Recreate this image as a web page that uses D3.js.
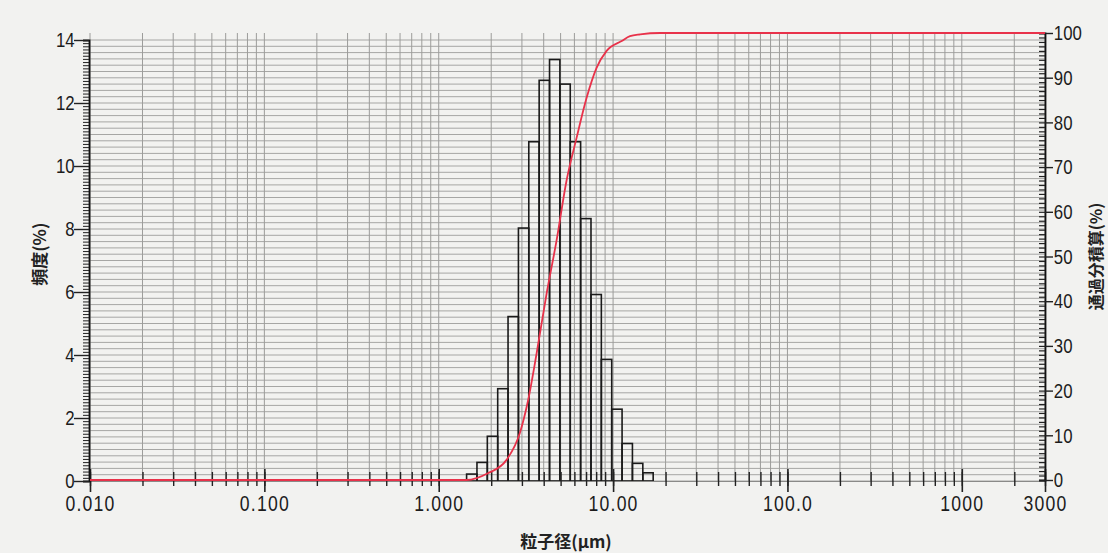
<!DOCTYPE html>
<html>
<head>
<meta charset="utf-8">
<script src="https://cdn.jsdelivr.net/npm/d3@7"></script>
<style>
  html, body { margin: 0; padding: 0; background: #f2f2f0; }
  svg { display: block; }
</style>
</head>
<body>
<svg id="chart" width="1108" height="553"></svg>
<script>
// bin edges of the histogram (µm) and frequency of each bin (%)
const binEdges = [1.445, 1.657, 1.900, 2.179, 2.498, 2.865, 3.285, 3.767, 4.320, 4.953,
                  5.680, 6.513, 7.469, 8.564, 9.821, 11.26, 12.91, 14.81, 16.98];
const freq = [0.22, 0.59, 1.42, 2.93, 5.22, 8.03, 10.77, 12.72, 13.38,
              12.6, 10.77, 8.33, 5.92, 3.86, 2.28, 1.19, 0.56, 0.26];

// cumulative passing curve (red)
const cumSize = [0.01, 1.445, 1.914, 2.449, 2.919, 3.258, 3.642, 4.156, 4.742, 5.41,
                 6.18, 7.05, 8.04, 9.18, 11.2, 12.5, 14.3, 18.6, 3000];
const cumPass = [0, 0, 1.5, 4.5, 10.5, 17.9, 28.3, 41.7, 53.6, 67,
                 76.6, 85.5, 92.2, 96, 98.2, 99.3, 99.7, 100, 100];

// axis ticks
const xMajor = [0.01, 0.1, 1, 10, 100, 1000, 3000];
const xLabels = ["0.010", "0.100", "1.000", "10.00", "100.0", "1000", "3000"];
const yLeftMajor = [0, 2, 4, 6, 8, 10, 12, 14];
const yRightMajor = [0, 10, 20, 30, 40, 50, 60, 70, 80, 90, 100];

const tickFont = "'Liberation Sans', Arial, sans-serif";

const svg = d3.select("#chart");

const x = d3.scaleLog().domain([0.01, 3000]).range([90, 1045]);
const yL = d3.scaleLinear().domain([0, 14]).range([481, 40]);
const yR = d3.scaleLinear().domain([0, 100]).range([480, 33]);

// minor log ticks 1..9 per decade, plus 2000
const xMinor = [];
[0.01, 0.1, 1, 10, 100].forEach((dec) => {
  for (let k = 1; k < 10; k++) xMinor.push(+(dec * k).toPrecision(3));
});
xMinor.push(1000, 2000, 3000);

// narrow tall digits like the printed chart
const styleTickText = (sel, size) => {
  sel.selectAll(".tick text")
      .style("font-family", tickFont)
      .style("font-size", size)
      .style("fill", "#1c1c1c")
      .attr("transform", "scale(0.8,1)");
}

const grid = svg.append("g").attr("class", "grid");

// horizontal grid every 0.2 on the left scale
grid.selectAll("line.h")
    .data(d3.range(0, 70.5, 1).map((i) => i * 0.2))
    .enter()
    .append("line")
      .attr("class", "h")
      .attr("x1", x(0.01))
      .attr("x2", x(3000))
      .attr("y1", (d) => yL(d))
      .attr("y2", (d) => yL(d))
      .style("stroke", "#a6a6a4")
      .style("stroke-width", 1);

// vertical grid at each log tick
grid.selectAll("line.v")
    .data(xMinor)
    .enter()
    .append("line")
      .attr("class", "v")
      .attr("x1", (d) => x(d))
      .attr("x2", (d) => x(d))
      .attr("y1", yR(100))
      .attr("y2", yL(0))
      .style("stroke", "#9c9c9a")
      .style("stroke-width", 1);

// histogram outlines
svg.append("g")
    .selectAll("rect")
    .data(freq)
    .enter()
    .append("rect")
      .attr("x", (d, i) => x(binEdges[i]))
      .attr("width", (d, i) => x(binEdges[i + 1]) - x(binEdges[i]))
      .attr("y", (d) => yL(d))
      .attr("height", (d) => yL(0) - yL(d))
      .style("fill", "none")
      .style("stroke", "#1a1a1a")
      .style("stroke-width", 1.6);

// bottom axis, major and minor
const bottomMinor = svg.append("g")
    .attr("transform", `translate(0,${yL(0)})`)
    .call(d3.axisBottom(x).tickValues(xMinor).tickSize(5).tickFormat(""));
bottomMinor.selectAll(".tick line").attr("y1", -9).style("stroke", "#222").style("stroke-width", 1.4);
bottomMinor.select(".domain").style("stroke", "#8a8a88");

const bottomMajor = svg.append("g")
    .attr("transform", `translate(0,${yL(0)})`)
    .call(d3.axisBottom(x).tickValues(xMajor).tickSize(11)
          .tickFormat((d, i) => xLabels[i]));
bottomMajor.select(".domain").remove();
bottomMajor.selectAll(".tick line").attr("y1", -12).style("stroke", "#222").style("stroke-width", 1.6);
bottomMajor.selectAll(".tick text")
    .attr("y", 14)
    .attr("dy", "0.71em")
    .style("letter-spacing", "1.5px");
styleTickText(bottomMajor, "22px");

// left axis
const leftMinor = svg.append("g")
    .attr("transform", `translate(${x(0.01) - 1},0)`)
    .call(d3.axisLeft(yL).tickValues(d3.range(0, 141).map((i) => i / 10)).tickSize(6).tickFormat(""));
leftMinor.selectAll(".tick line").style("stroke", "#222").style("stroke-width", 1);
leftMinor.select(".domain").style("stroke", "#111").style("stroke-width", 1.8);

const leftMajor = svg.append("g")
    .attr("transform", `translate(${x(0.01) - 1},0)`)
    .call(d3.axisLeft(yL).tickValues(yLeftMajor).tickSize(15).tickPadding(3));
leftMajor.select(".domain").remove();
leftMajor.selectAll(".tick line").style("stroke", "#222").style("stroke-width", 1.4);
styleTickText(leftMajor, "21px");

// right axis
const rightMinor = svg.append("g")
    .attr("transform", `translate(${x(3000)},0)`)
    .call(d3.axisLeft(yR).tickValues(d3.range(0, 101)).tickSize(6).tickFormat(""));
rightMinor.selectAll(".tick line").style("stroke", "#222").style("stroke-width", 1.2);
rightMinor.select(".domain").style("stroke", "#111").style("stroke-width", 1.8);

const rightMajor = svg.append("g")
    .attr("transform", `translate(${x(3000)},0)`)
    .call(d3.axisRight(yR).tickValues(yRightMajor).tickSize(8).tickPadding(3));
rightMajor.select(".domain").remove();
rightMajor.selectAll(".tick line").style("stroke", "#222").style("stroke-width", 1.4);
styleTickText(rightMajor, "21px");

// cumulative curve
const line = d3.line()
    .x((d, i) => x(cumSize[i]))
    .y((d) => yR(d))
    .curve(d3.curveMonotoneX);

svg.append("path")
    .datum(cumPass)
    .attr("d", line)
    .style("fill", "none")
    .style("stroke", "#e8324a")
    .style("stroke-width", 1.8);

// axis titles
const titleFont = "'Noto Sans CJK JP', sans-serif";

svg.append("text")
    .text("頻度(%)")
    .attr("transform", `translate(46,${yL(7.2)}) rotate(-90)`)
    .attr("text-anchor", "middle")
    .style("font-family", titleFont)
    .style("font-size", "17px")
    .style("font-weight", "700")
    .style("fill", "#222");

svg.append("text")
    .text("通過分積算(%)")
    .attr("transform", `translate(1102,${yR(50)}) rotate(-90)`)
    .attr("text-anchor", "middle")
    .style("font-family", titleFont)
    .style("font-size", "16px")
    .style("font-weight", "700")
    .style("fill", "#222");

svg.append("text")
    .text("粒子径(μm)")
    .attr("x", 566)
    .attr("y", 548)
    .attr("text-anchor", "middle")
    .style("font-family", titleFont)
    .style("font-size", "17px")
    .style("font-weight", "700")
    .style("fill", "#222");
</script>
</body>
</html>
